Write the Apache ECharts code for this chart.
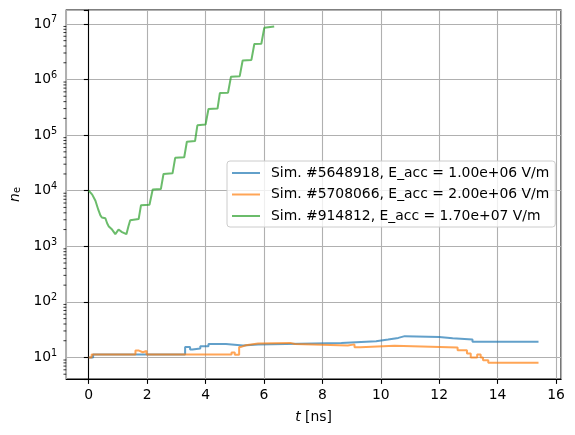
<!DOCTYPE html>
<html>
<head>
<meta charset="utf-8">
<script src="https://cdn.jsdelivr.net/npm/echarts@6/dist/echarts.min.js"></script>
<style>
html, body { margin: 0; padding: 0; background: #fff; }
#chart { width: 575px; height: 435px; }
</style>
</head>
<body>
<div id="chart"></div>
<script>
// series names (legend)
var seriesNames = [
    'Sim. #5648918, E_acc = 1.00e+06 V/m',
    'Sim. #5708066, E_acc = 2.00e+06 V/m',
    'Sim. #914812, E_acc = 1.70e+07 V/m'
];
var seriesColors = ['#1f77b4', '#ff7f0e', '#2ca02c'];

// [t (ns), n_e] -- value holds until the next t (step)
var blueData = [
    [0, 10], [0.15, 11.3], [3.3, 15.5], [3.47, 13.9], [3.55, 14.5], [3.82, 15.9],
    [4.1, 17.4], [4.7, 16.4], [5.28, 17.2], [5.8, 18.2], [8.65, 19.6], [9.84, 21],
    [10.25, 22.5], [10.6, 24.2], [10.82, 23.4], [12.0, 22.2], [12.46, 21],
    [13.14, 19.2], [15.4, 19.2]
];
var orangeData = [
    [0, 10], [0.1, 11.3], [1.6, 13.3], [1.72, 12.4], [1.85, 13.1], [1.98, 11.3],
    [4.89, 12.3], [5.0, 11.2], [5.15, 15.5], [5.22, 16.6], [5.38, 17.8], [5.8, 18.3],
    [6.9, 17.5], [7.06, 16.4], [8.87, 17.2], [9.1, 15.2], [9.3, 16.2], [10.47, 15.1],
    [12.63, 13.5], [12.95, 11.8], [13.08, 10], [13.3, 11.3], [13.42, 10], [13.5, 8.95],
    [13.68, 8.05], [15.4, 8.05]
];
var greenData = [
    [0, 1.0e4], [0.12, 8.5e3], [0.23, 6.6e3], [0.33, 4.5e3], [0.4, 3.6e3], [0.45, 3.3e3],
    [0.57, 3.2e3], [0.63, 2.6e3], [0.68, 2.3e3], [0.8, 2.0e3], [0.91, 1.66e3], [0.97, 1.7e3],
    [1.02, 2.0e3], [1.14, 1.8e3], [1.29, 1.65e3], [1.36, 2.3e3], [1.42, 2.95e3], [1.71, 3.1e3],
    [1.79, 5.5e3], [2.08, 5.6e3], [2.19, 1.05e4], [2.47, 1.07e4], [2.56, 2.0e4], [2.87, 2.05e4],
    [2.96, 3.9e4], [3.27, 4.0e4], [3.36, 7.6e4], [3.64, 7.8e4], [3.72, 1.5e5], [4.0, 1.55e5],
    [4.1, 2.95e5], [4.41, 3.0e5], [4.49, 5.7e5], [4.77, 5.8e5], [4.87, 1.12e6], [5.17, 1.15e6],
    [5.27, 2.2e6], [5.57, 2.25e6], [5.67, 4.35e6], [5.91, 4.4e6], [6.01, 8.5e6], [6.35, 9.0e6]
];

// axis ranges
var xMin = -0.77, xMax = 16.17;
var yMin = 4.1, yMax = 1.78e7;
// log minor tick positions
var minorTickValues = [
    5, 6, 7, 8, 9,
    20, 30, 40, 50, 60, 70, 80, 90,
    200, 300, 400, 500, 600, 700, 800, 900,
    2e3, 3e3, 4e3, 5e3, 6e3, 7e3, 8e3, 9e3,
    2e4, 3e4, 4e4, 5e4, 6e4, 7e4, 8e4, 9e4,
    2e5, 3e5, 4e5, 5e5, 6e5, 7e5, 8e5, 9e5,
    2e6, 3e6, 4e6, 5e6, 6e6, 7e6, 8e6, 9e6
];

var FONT = 'DejaVu Sans';

var chart = echarts.init(document.getElementById('chart'));

function lineSeries(i, data, step) {
    return {
        name: seriesNames[i],
        type: 'line',
        data: data,
        step: step,
        symbol: 'none',
        showSymbol: false,
        color: seriesColors[i],
        lineStyle: { width: 2, opacity: 0.7, color: seriesColors[i] },
        z: 3 + i
    };
}

var option = {
    animation: false,
    textStyle: { fontFamily: FONT },
    grid: {
        left: 65, right: 14, top: 10, bottom: 56,
        show: true, borderColor: '#000', borderWidth: 1.1, backgroundColor: 'transparent'
    },
    legend: {
        data: seriesNames,
        orient: 'vertical',
        left: 227, top: 161,
        padding: [5, 6, 4, 5],
        icon: 'rect',
        itemWidth: 28, itemHeight: 2, itemGap: 7.5,
        itemStyle: { opacity: 0.7 },
        backgroundColor: 'rgba(255,255,255,0.8)',
        borderColor: '#cccccc', borderWidth: 1, borderRadius: 3,
        textStyle: { fontFamily: FONT, fontSize: 13.9, lineHeight: 14, color: '#000', padding: [0, 0, 0, 6] }
    },
    xAxis: {
        type: 'value',
        min: xMin, max: xMax,
        splitNumber: 8,
        name: '{i|t} [ns]',
        nameLocation: 'middle',
        nameGap: 31,
        nameTextStyle: {
            fontFamily: FONT, fontSize: 13.9, color: '#000',
            rich: { i: { fontFamily: FONT, fontSize: 13.9, fontStyle: 'italic', color: '#000' } }
        },
        axisLine: { lineStyle: { color: '#000', width: 1.1 } },
        axisTick: { show: true, length: 4.9, lineStyle: { color: '#000', width: 1.1 } },
        axisLabel: {
            fontFamily: FONT, fontSize: 13.9, color: '#000', margin: 9,
            showMinLabel: false, showMaxLabel: false,
            formatter: function (v) {
                return Math.abs(v - Math.round(v)) < 1e-6 ? String(Math.round(v)) : '';
            }
        },
        splitLine: { show: true, lineStyle: { color: '#b0b0b0', width: 1.1 } }
    },
    yAxis: {
        type: 'log',
        logBase: 10,
        min: yMin, max: yMax,
        splitNumber: 7,
        name: '{i|n}{s|e}',
        nameLocation: 'middle',
        nameRotate: 90,
        nameGap: 41,
        nameTextStyle: {
            fontFamily: FONT, fontSize: 13.9, color: '#000',
            rich: {
                i: { fontFamily: FONT, fontSize: 13.9, fontStyle: 'italic', color: '#000' },
                s: { fontFamily: FONT, fontSize: 9.7, color: '#000', padding: [5, 0, 0, 0] }
            }
        },
        axisLine: { lineStyle: { color: '#000', width: 1.1 } },
        axisTick: { show: true, length: 4.9, lineStyle: { color: '#000', width: 1.1 } },
        axisLabel: {
            fontFamily: FONT, fontSize: 13.9, color: '#000', margin: 9,
            formatter: function (v) {
                var lg = Math.log10(v);
                var e = Math.round(lg);
                if (Math.abs(lg - e) > 1e-6) return '';
                return '{b|10}{s|' + e + '}';
            },
            rich: {
                b: { fontFamily: FONT, fontSize: 13.9, color: '#000' },
                s: { fontFamily: FONT, fontSize: 9.7, color: '#000', padding: [0, 0, 8, 0] }
            }
        },
        splitLine: { show: true, lineStyle: { color: '#b0b0b0', width: 1.1 } }
    },
    series: [
        lineSeries(0, blueData, 'end'),
        lineSeries(1, orangeData, 'end'),
        lineSeries(2, greenData, false),
        {
            type: 'custom',
            name: 'minorTicks',
            silent: true,
            clip: false,
            data: minorTickValues.map(function (v) { return [xMin, v]; }),
            encode: { x: 0, y: 1 },
            renderItem: function (params, api) {
                var p = api.coord([api.value(0), api.value(1)]);
                return {
                    type: 'line',
                    shape: { x1: p[0] - 2.8, y1: p[1], x2: p[0], y2: p[1] },
                    style: { stroke: '#000', lineWidth: 0.8 }
                };
            },
            z: 10
        }
    ]
};

chart.setOption(option);
</script>
</body>
</html>
